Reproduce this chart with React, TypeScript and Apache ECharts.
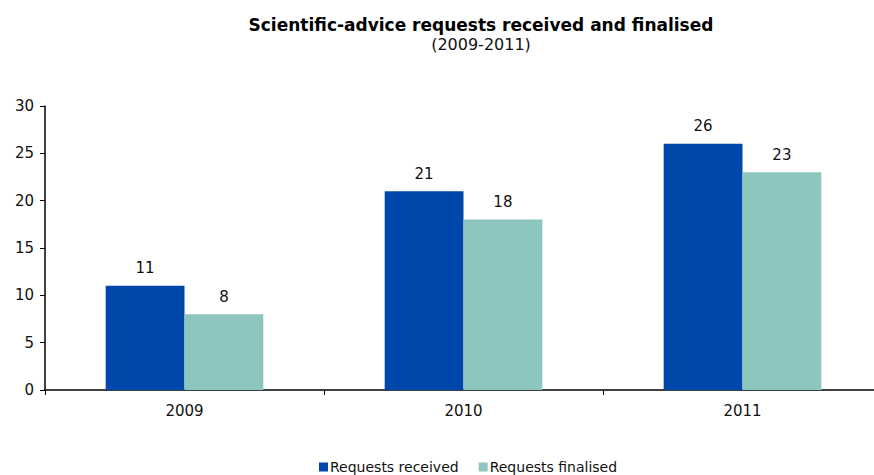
import React, { useEffect, useRef } from "react";
import * as echarts from "echarts";

const categories = ["2009", "2010", "2011"];
const received = [11, 21, 26];
const finalised = [8, 18, 23];
const seriesNames = ["Requests received", "Requests finalised"];

const FONT = "DejaVu Sans, Verdana, sans-serif";

export default function App() {
  const ref = useRef<HTMLDivElement>(null);
  useEffect(() => {
    if (!ref.current) return;
    const chart = echarts.init(ref.current, null, { renderer: "svg" });
    const labelStyle = {
      show: true,
      position: "top" as const,
      distance: 10,
      color: "#111",
      fontSize: 15,
      fontFamily: FONT,
    };
    chart.setOption({
      animation: false,
      backgroundColor: "#fff",
      title: {
        text: "Scientific-advice requests received and finalised",
        subtext: "(2009-2011)",
        left: 476,
        textAlign: "center",
        top: 11,
        itemGap: 3,
        textStyle: { fontFamily: FONT, fontSize: 17, fontWeight: "bold", color: "#000" },
        subtextStyle: { fontFamily: FONT, fontSize: 16, color: "#111" },
      },
      legend: {
        data: seriesNames,
        top: 455,
        left: 314,
        itemWidth: 9,
        itemHeight: 9,
        itemGap: 20,
        icon: "rect",
        textStyle: { fontFamily: FONT, fontSize: 14, color: "#111", padding: [0, 0, 0, -3] },
      },
      grid: {
        left: 45,
        right: -8,
        top: 106,
        bottom: 85,
        containLabel: false,
        outerBoundsMode: "none",
      } as any,
      xAxis: {
        type: "category",
        data: categories,
        axisLine: { lineStyle: { color: "#000", width: 1.5 } },
        axisTick: { show: true, length: 5, lineStyle: { color: "#000" } },
        axisLabel: { fontFamily: FONT, fontSize: 15, color: "#111", margin: 13 },
      },
      yAxis: {
        type: "value",
        min: 0,
        max: 30,
        interval: 5,
        splitLine: { show: false },
        axisLine: { show: true, lineStyle: { color: "#000", width: 1.5 } },
        axisTick: { show: true, length: 5, lineStyle: { color: "#000" } },
        axisLabel: { fontFamily: FONT, fontSize: 15, color: "#111", margin: 11 },
      },
      series: [
        {
          name: seriesNames[0],
          type: "bar",
          data: received,
          barGap: "0%",
          barCategoryGap: "43.5%",
          itemStyle: { color: "#0047AB" },
          label: labelStyle,
        },
        {
          name: seriesNames[1],
          type: "bar",
          data: finalised,
          itemStyle: { color: "#8DC6BF" },
          label: labelStyle,
        },
      ],
    });
    return () => chart.dispose();
  }, []);
  return (
    <div
      ref={ref}
      style={{ position: "fixed", left: 0, top: 0, width: 874, height: 475 }}
    />
  );
}
